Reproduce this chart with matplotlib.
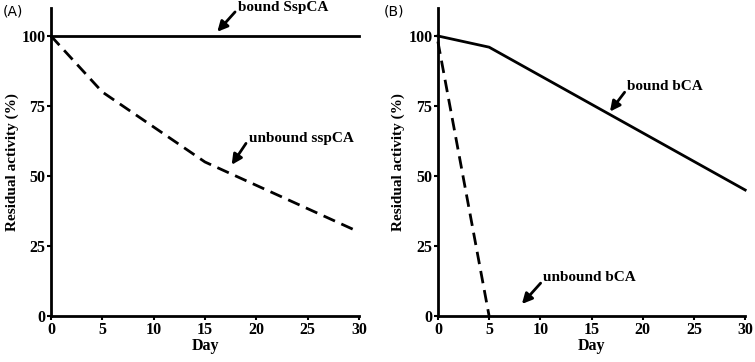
import numpy as np
import matplotlib.pyplot as plt

plt.rcParams['font.family'] = ['Liberation Serif', 'DejaVu Serif']
plt.rcParams['font.weight'] = 'bold'

# panel A data
days_a_bound = [0, 30]
bound_sspca = [100, 100]
days_a_unbound = [0, 5, 15, 30]
unbound_sspca = [100, 80, 55, 30]

# panel B data
days_b_bound = [0, 5, 30]
bound_bca = [100, 96, 45]
days_b_unbound = [0, 5]
unbound_bca = [98, 0]

xticks = [0, 5, 10, 15, 20, 25, 30]
yticks = [0, 25, 50, 75, 100]

fig = plt.figure(figsize=(7.55, 3.62), dpi=100)
axA = fig.add_axes([0.0675, 0.127, 0.408, 0.851])
axB = fig.add_axes([0.580, 0.127, 0.407, 0.851])

arrow = dict(arrowstyle='-|>', color='k', lw=2, mutation_scale=15,
             shrinkA=0, shrinkB=0)


def style(ax):
    ax.set_xlim(0, 30)
    ax.set_ylim(0, 110)
    ax.set_xticks(xticks)
    ax.set_yticks(yticks)
    for s in ['top', 'right']:
        ax.spines[s].set_visible(False)
    for s in ['left', 'bottom']:
        ax.spines[s].set_linewidth(2)
    ax.tick_params(width=1.5, length=3, labelsize=11.5, pad=1)
    for lab in ax.get_xticklabels() + ax.get_yticklabels():
        lab.set_fontweight('bold')
    ax.set_xlabel('Day', fontsize=11.5, fontweight='bold', labelpad=0)
    ax.set_ylabel('Residual activity (%)', fontsize=11, fontweight='bold', labelpad=2)


style(axA)
axA.plot(days_a_bound, bound_sspca, 'k-', lw=2, clip_on=False)
axA.plot(days_a_unbound, unbound_sspca, 'k--', lw=2, dashes=(4.5, 2.5), clip_on=False)
axA.annotate('bound SspCA', xy=(16.2, 101.5), xytext=(18.2, 110), fontsize=11,
             fontweight='bold', va='center', ha='left', annotation_clip=False,
             arrowprops=dict(arrow, relpos=(-0.03, 0.2)))
axA.annotate('unbound sspCA', xy=(17.6, 54), xytext=(19.3, 63.5), fontsize=11,
             fontweight='bold', va='center', ha='left',
             arrowprops=dict(arrow, relpos=(-0.03, 0.1)))
fig.text(0.003, 0.988, '(A)', fontsize=10, fontweight='normal', family='DejaVu Sans',
         va='top', ha='left')

style(axB)
axB.plot(days_b_bound, bound_bca, 'k-', lw=2, clip_on=False)
axB.plot(days_b_unbound, unbound_bca, 'k--', lw=2, dashes=(4.5, 2.5), clip_on=False)
axB.annotate('bound bCA', xy=(16.8, 73), xytext=(18.5, 82), fontsize=11,
             fontweight='bold', va='center', ha='left',
             arrowprops=dict(arrow, relpos=(-0.03, 0.1)))
axB.annotate('unbound bCA', xy=(8.2, 4.3), xytext=(10.3, 13.6), fontsize=11,
             fontweight='bold', va='center', ha='left',
             arrowprops=dict(arrow, relpos=(-0.03, 0.1)))
fig.text(0.508, 0.988, '(B)', fontsize=10, fontweight='normal', family='DejaVu Sans',
         va='top', ha='left')

fig.savefig('out.png', dpi=100)
